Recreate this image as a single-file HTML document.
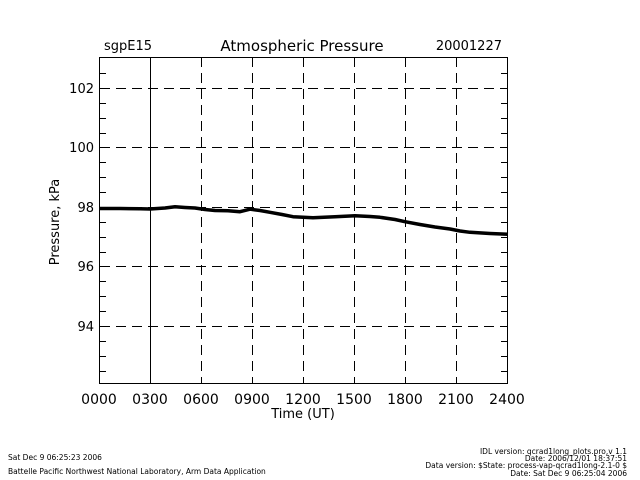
<!DOCTYPE html>
<html><head><style>
body{margin:0;background:#fff;}
svg{display:block;}
text{font-family:"DejaVu Sans","Liberation Sans",sans-serif;fill:#000;}
</style></head><body>
<svg width="640" height="480" viewBox="0 0 640 480" xmlns="http://www.w3.org/2000/svg">
<g stroke="#000" stroke-width="1" fill="none" shape-rendering="crispEdges">
<rect x="99.5" y="57.5" width="408" height="326"/>
<line x1="150.5" y1="57" x2="150.5" y2="383"/>
<g stroke-dasharray="10,6">
<line x1="201.5" y1="57" x2="201.5" y2="383"/>
<line x1="252.5" y1="57" x2="252.5" y2="383"/>
<line x1="303.5" y1="57" x2="303.5" y2="383"/>
<line x1="354.5" y1="57" x2="354.5" y2="383"/>
<line x1="405.5" y1="57" x2="405.5" y2="383"/>
<line x1="456.5" y1="57" x2="456.5" y2="383"/>
<line x1="100" y1="88.5" x2="507" y2="88.5"/>
<line x1="100" y1="147.5" x2="507" y2="147.5"/>
<line x1="100" y1="207.5" x2="507" y2="207.5"/>
<line x1="100" y1="266.5" x2="507" y2="266.5"/>
<line x1="100" y1="326.5" x2="507" y2="326.5"/>
</g>
<g>
<line x1="100" y1="73.5" x2="106" y2="73.5"/><line x1="501" y1="73.5" x2="507" y2="73.5"/>
<line x1="100" y1="103.5" x2="106" y2="103.5"/><line x1="501" y1="103.5" x2="507" y2="103.5"/>
<line x1="100" y1="118.5" x2="106" y2="118.5"/><line x1="501" y1="118.5" x2="507" y2="118.5"/>
<line x1="100" y1="133.5" x2="106" y2="133.5"/><line x1="501" y1="133.5" x2="507" y2="133.5"/>
<line x1="100" y1="162.5" x2="106" y2="162.5"/><line x1="501" y1="162.5" x2="507" y2="162.5"/>
<line x1="100" y1="177.5" x2="106" y2="177.5"/><line x1="501" y1="177.5" x2="507" y2="177.5"/>
<line x1="100" y1="192.5" x2="106" y2="192.5"/><line x1="501" y1="192.5" x2="507" y2="192.5"/>
<line x1="100" y1="222.5" x2="106" y2="222.5"/><line x1="501" y1="222.5" x2="507" y2="222.5"/>
<line x1="100" y1="237.5" x2="106" y2="237.5"/><line x1="501" y1="237.5" x2="507" y2="237.5"/>
<line x1="100" y1="252.5" x2="106" y2="252.5"/><line x1="501" y1="252.5" x2="507" y2="252.5"/>
<line x1="100" y1="281.5" x2="106" y2="281.5"/><line x1="501" y1="281.5" x2="507" y2="281.5"/>
<line x1="100" y1="296.5" x2="106" y2="296.5"/><line x1="501" y1="296.5" x2="507" y2="296.5"/>
<line x1="100" y1="311.5" x2="106" y2="311.5"/><line x1="501" y1="311.5" x2="507" y2="311.5"/>
<line x1="100" y1="341.5" x2="106" y2="341.5"/><line x1="501" y1="341.5" x2="507" y2="341.5"/>
<line x1="100" y1="356.5" x2="106" y2="356.5"/><line x1="501" y1="356.5" x2="507" y2="356.5"/>
<line x1="100" y1="371.5" x2="106" y2="371.5"/><line x1="501" y1="371.5" x2="507" y2="371.5"/>
</g>
</g>
<polyline fill="none" stroke="#000" stroke-width="3.5" stroke-linejoin="round" points="100,208.5 120,208.5 140,208.8 150,209 165,208 175,206.8 185,207.5 195,208 205,209.5 215,210.5 228,210.8 240,211.7 250,209.2 260,210.5 270,212.3 282,214.5 293,216.7 313,217.7 335,216.8 355,215.8 370,216.5 380,217.3 395,219.5 405,221.7 420,224.5 435,227 450,229 460,231 470,232.3 490,233.5 508,234.2"/>
<g font-size="14">
<text x="104" y="50" font-size="13">sgpE15</text>
<text x="302" y="51" text-anchor="middle" font-size="15">Atmospheric Pressure</text>
<text x="502" y="50" text-anchor="end" font-size="13">20001227</text>
<text x="94" y="93" text-anchor="end" font-size="13">102</text>
<text x="94" y="152" text-anchor="end" font-size="13">100</text>
<text x="94" y="212" text-anchor="end" font-size="13">98</text>
<text x="94" y="271" text-anchor="end" font-size="13">96</text>
<text x="94" y="331" text-anchor="end" font-size="13">94</text>
<g text-anchor="middle" font-size="14">
<text x="99" y="404">0000</text><text x="150" y="404">0300</text><text x="201" y="404">0600</text>
<text x="252" y="404">0900</text><text x="303" y="404">1200</text><text x="354" y="404">1500</text>
<text x="405" y="404">1800</text><text x="456" y="404">2100</text><text x="507" y="404">2400</text>
</g>
<text x="303" y="418" text-anchor="middle" font-size="13">Time (UT)</text>
<text transform="translate(59,222) rotate(-90)" text-anchor="middle" font-size="13">Pressure, kPa</text>
</g>
<g font-size="7.5">
<text x="8" y="460">Sat Dec  9 06:25:23 2006</text>
<text x="8" y="474">Battelle Pacific Northwest National Laboratory, Arm Data Application</text>
<text x="627" y="454" text-anchor="end">IDL version: qcrad1long_plots.pro,v 1.1</text>
<text x="627" y="461" text-anchor="end">Date: 2006/12/01 18:37:51</text>
<text x="627" y="468" text-anchor="end">Data version: $State: process-vap-qcrad1long-2.1-0 $</text>
<text x="627" y="476" text-anchor="end">Date: Sat Dec  9 06:25:04 2006</text>
</g>
</svg>
</body></html>
